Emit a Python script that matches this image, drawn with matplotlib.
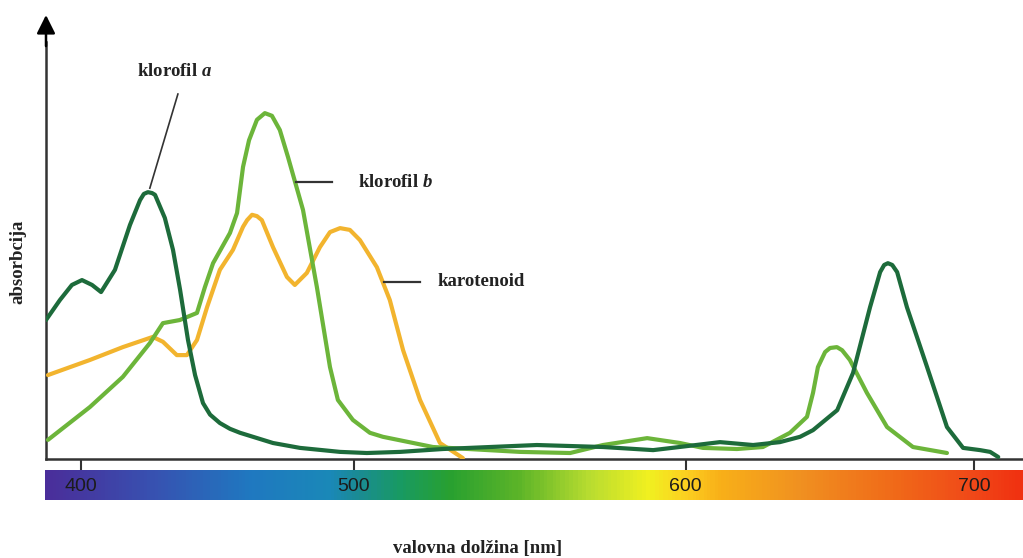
import numpy as np
import matplotlib
matplotlib.use("Agg")
import matplotlib.pyplot as plt
from matplotlib.colors import LinearSegmentedColormap

plt.rcParams['mathtext.fontset'] = 'custom'
plt.rcParams['mathtext.rm'] = 'Liberation Serif:bold'
plt.rcParams['mathtext.it'] = 'Liberation Serif:italic:bold'

# ---------------- data (wavelength nm, relative absorption) ----------------
chl_a_wl = [387.0, 392.1, 396.5, 400.2, 403.9, 407.2, 412.3, 417.8, 421.5, 422.9,
            424.4, 425.9, 427.0, 430.6, 433.6, 436.2, 439.1, 441.7, 444.6, 447.2,
            450.8, 454.5, 458.2, 470.3, 480.2, 494.9, 503.9, 513.9, 526.8, 555.1,
            575.0, 590.1, 600.3, 611.8, 623.3, 632.6, 639.6, 644.1, 652.5, 658.0,
            663.9, 667.4, 668.8, 670.1, 671.6, 673.3, 676.7, 683.7, 690.6, 696.2,
            702.1, 705.6, 708.4]
chl_a_abs = [31.3, 35.8, 39.2, 40.3, 39.2, 37.6, 42.6, 52.7, 58.3, 59.7,
             60.1, 59.9, 59.5, 54.3, 47.1, 38.1, 26.8, 18.9, 12.6, 10.0,
             8.1, 6.8, 5.9, 3.6, 2.5, 1.6, 1.35, 1.6, 2.25, 3.15,
             2.7, 2.0, 2.9, 3.8, 3.15, 3.8, 5.0, 6.5, 11.0, 19.4,
             34.2, 42.1, 43.7, 44.1, 43.7, 42.1, 34.2, 20.7, 7.2, 2.5,
             2.0, 1.6, 0.45]

chl_b_wl = [387.7, 403.1, 415.2, 425.1, 429.9, 436.1, 442.4, 445.3, 448.3, 454.5,
            457.1, 459.3, 461.5, 464.4, 467.3, 469.9, 472.8, 475.8, 481.3, 486.4,
            491.2, 494.1, 499.6, 504.8, 508.7, 523.8, 550.0, 565.1, 575.0, 588.3,
            598.2, 605.9, 617.7, 626.7, 636.1, 642.0, 644.1, 645.8, 648.3, 650.0,
            652.4, 654.2, 656.9, 662.8, 669.8, 678.8, 690.6]
chl_b_abs = [4.3, 11.7, 18.5, 26.1, 30.6, 31.3, 32.9, 38.7, 44.1, 50.9,
             55.4, 65.8, 71.8, 76.4, 77.9, 77.3, 74.1, 68.0, 56.1, 38.7,
             20.7, 13.3, 8.8, 5.9, 5.0, 2.7, 1.6, 1.35, 3.15, 4.7,
             3.6, 2.5, 2.25, 2.7, 5.9, 9.5, 14.9, 20.7, 24.1, 25.0,
             25.2, 24.5, 22.3, 14.9, 7.2, 2.7, 1.35]

car_wl = [387.7, 403.1, 415.2, 426.2, 429.9, 435.0, 438.7, 442.4, 446.1, 450.8,
          455.6, 459.3, 460.8, 462.6, 464.4, 466.2, 470.3, 475.4, 478.3, 482.7,
          487.5, 491.2, 494.9, 498.5, 501.8, 506.9, 510.8, 514.8, 519.9, 525.9,
          532.8]
car_abs = [18.9, 22.3, 25.2, 27.5, 26.4, 23.4, 23.4, 26.8, 34.2, 42.6,
           47.1, 52.3, 53.8, 55.0, 54.7, 53.8, 47.7, 41.0, 39.2, 41.9,
           47.7, 51.1, 52.0, 51.6, 49.3, 43.2, 35.8, 24.5, 13.3, 3.6,
           0.2]

tick_values = [400, 500, 600, 700]

# spectrum colour stops (wavelength, colour)
spec_wl = [387, 400, 425, 462, 491, 500, 514, 529, 550, 571, 589, 600, 612, 640, 674, 700, 717]
spec_col = ['#4a2e9a', '#4438a0', '#3850b0', '#1f78c0', '#1a88b8', '#1a8a98', '#189a62',
            '#28a030', '#5cb428', '#b8dc30', '#f0f020', '#fcd020', '#f8b018', '#f09020',
            '#f06818', '#f04818', '#f03010']

# ---------------- non-uniform wavelength scale of the original drawing ----------------
_wl_knots = np.array([300.0, 400.0, 500.0, 600.0, 700.0, 800.0])
_px_knots = np.array([-191.0, 81.5, 354.0, 686.0, 974.0, 1262.0])

def fwd(x):
    return np.interp(x, _wl_knots, _px_knots)

def inv(p):
    return np.interp(p, _px_knots, _wl_knots)

W, H = 1023, 558
fig = plt.figure(figsize=(W / 100, H / 100), dpi=100)

def fx(px):
    return px / W

def fy(py):
    return 1 - py / H

x_lo, x_hi = 387.0, 717.0

# main axes: spans px x 46..1023, y 15..459
ax = fig.add_axes([fx(46), fy(459), fx(1023) - fx(46), fy(15) - fy(459)])
ax.set_xscale('function', functions=(fwd, inv))
ax.set_xlim(x_lo, x_hi)
ax.set_ylim(0, 100)

c_a = '#1d6b3b'
c_b = '#6cb53a'
c_c = '#f2b42e'
lw = 3.0
style = dict(lw=lw, solid_capstyle='round', solid_joinstyle='round')
ax.plot(car_wl, car_abs, color=c_c, zorder=3, **style)
ax.plot(chl_b_wl, chl_b_abs, color=c_b, zorder=4, **style)
ax.plot(chl_a_wl, chl_a_abs, color=c_a, zorder=5, **style)

for s in ['top', 'right']:
    ax.spines[s].set_visible(False)
ax.spines['left'].set_color('#333333')
ax.spines['left'].set_linewidth(1.8)
ax.spines['left'].set_bounds(0, 94)
ax.spines['bottom'].set_color('#333333')
ax.spines['bottom'].set_linewidth(1.8)
ax.set_yticks([])
ax.set_xticks(tick_values)
ax.set_xticklabels([])
ax.tick_params(axis='x', direction='out', length=8, width=1.5, color='#333333')
ax.set_clip_on(False)

# arrow head at top of y axis
ax.annotate('', xy=(0, 1.0), xycoords='axes fraction', xytext=(0, 0.93),
            textcoords='axes fraction',
            arrowprops=dict(arrowstyle='-|>', color='black', lw=1.8,
                            mutation_scale=28, shrinkA=0, shrinkB=0))

lab_font = dict(family=['Liberation Serif', 'DejaVu Serif'], fontweight='bold',
                fontsize=13.5, color='#222222')

# label lines and texts
ax.plot([435.4, 425.1], [82.2, 61.0], color='#333333', lw=1.2, zorder=6)
ax.text(434.3, 87.2, r'klorofil $a$', ha='center', va='center', **lab_font)
ax.plot([478.7, 491.9], [62.4, 62.4], color='#333333', lw=1.6, zorder=6)
ax.text(501.2, 62.2, r'klorofil $b$', ha='left', va='center', **lab_font)
ax.plot([509.0, 519.9], [39.9, 39.9], color='#333333', lw=1.6, zorder=6)
ax.text(525.3, 39.9, 'karotenoid', ha='left', va='center', **lab_font)

# y label
fig.text(fx(18), fy(262), 'absorbcija', rotation=90, ha='center', va='center', **lab_font)
# x label
fig.text(fx(478), fy(548), 'valovna dolžina [nm]', ha='center', va='center', **lab_font)

# spectrum bar
cax = fig.add_axes([fx(45), fy(500), fx(1023) - fx(45), fy(470) - fy(500)])
cax.set_xscale('function', functions=(fwd, inv))
cax.set_xlim(x_lo, x_hi)
cax.set_ylim(0, 1)
lo, hi = spec_wl[0], spec_wl[-1]
pos = [(w - lo) / (hi - lo) for w in spec_wl]
cmap = LinearSegmentedColormap.from_list('spec', list(zip(pos, spec_col)))
edges = np.linspace(x_lo, x_hi, 600)
centers = 0.5 * (edges[:-1] + edges[1:])
cax.pcolormesh(edges, [0, 1], centers[None, :], cmap=cmap, vmin=lo, vmax=hi,
               shading='flat', rasterized=True)
cax.set_axis_off()
for t in tick_values:
    cax.text(t, 0.45, str(t), ha='center', va='center', fontsize=14,
             family=['Liberation Sans Narrow', 'Liberation Sans', 'DejaVu Sans'],
             color='#1c1c1c')

fig.savefig('out.png', dpi=100)
